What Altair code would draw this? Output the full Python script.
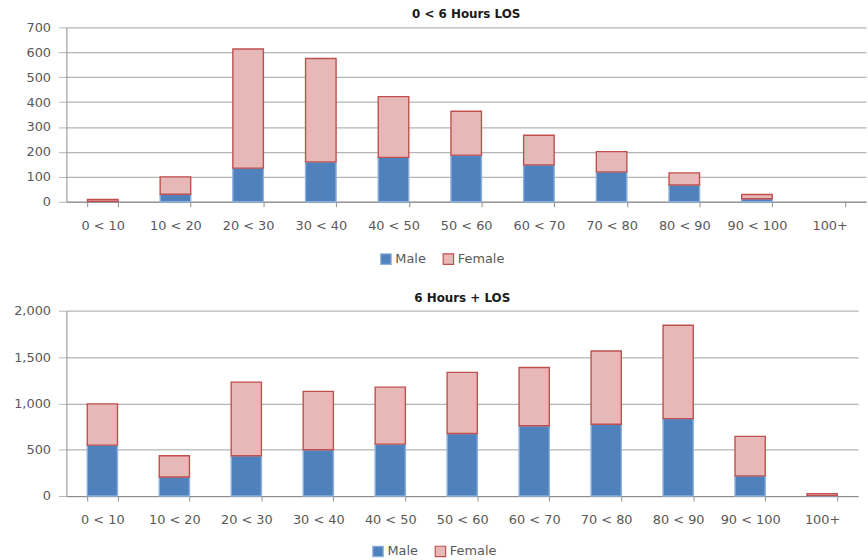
import altair as alt
import pandas as pd

cats = ["0 < 10", "10 < 20", "20 < 30", "30 < 40", "40 < 50", "50 < 60",
        "60 < 70", "70 < 80", "80 < 90", "90 < 100", "100+"]
top_male = [1, 30, 135, 160, 178, 187, 148, 120, 67, 12, 0]
top_female = [8, 70, 478, 415, 244, 176, 119, 81, 49, 17, 0]
bot_male = [550, 205, 435, 500, 560, 675, 758, 775, 835, 217, 4]
bot_female = [445, 230, 795, 630, 615, 660, 630, 790, 1008, 427, 20]
sexes = ["Male", "Female"]
top_title = "0 < 6 Hours LOS"
bot_title = "6 Hours + LOS"
top_ticks = [0, 100, 200, 300, 400, 500, 600, 700]
bot_ticks = [0, 500, 1000, 1500, 2000]

FONT = "DejaVu Sans"
TXT = "#595959"


def make_df(male, female):
    rows = []
    for c, m, f in zip(cats, male, female):
        rows.append({"cat": c, "sex": "Male", "ord": 0, "val": m})
        rows.append({"cat": c, "sex": "Female", "ord": 1, "val": f})
    return pd.DataFrame(rows)


def panel(df, title, ticks, fmt, width, height, lx, ly, yext):
    fill_scale = alt.Scale(domain=sexes, range=["#4F81BD", "#E6B9B8"])
    stroke_scale = alt.Scale(domain=sexes, range=["#8DB0DA", "#C0504D"])
    legend = alt.Legend(
        title=None, orient="none", direction="horizontal",
        legendX=lx, legendY=ly,
        symbolType="square", symbolSize=110, symbolStrokeWidth=1.2,
        labelFont=FONT, labelFontSize=13, labelColor=TXT,
        columnPadding=14, labelOffset=3,
    )
    return alt.Chart(df).transform_filter(alt.datum.val > 0).mark_bar(
        strokeWidth=1.4
    ).encode(
        x=alt.X("cat:N", sort=cats, title=None,
                scale=alt.Scale(domain=cats, paddingInner=0.58, paddingOuter=0.29),
                axis=alt.Axis(labelAngle=0, tickBand="extent", grid=False,
                              labelFont=FONT, labelFontSize=13, labelColor=TXT,
                              domainColor="#8c8c8c", tickColor="#8c8c8c",
                              tickSize=5, labelPadding=13)),
        y=alt.Y("val:Q", title=None, stack="zero",
                scale=alt.Scale(domain=[ticks[0], ticks[-1]], nice=False),
                axis=alt.Axis(values=ticks, format=fmt, grid=True,
                              gridColor="#b5b5b5", gridWidth=1.3,
                              labelFont=FONT, labelFontSize=13, labelColor=TXT,
                              domainColor="#8c8c8c", tickColor="#b5b5b5",
                              tickSize=8, labelPadding=8,
                              minExtent=yext, maxExtent=yext)),
        fill=alt.Fill("sex:N", scale=fill_scale, legend=legend),
        stroke=alt.Stroke("sex:N", scale=stroke_scale, legend=legend),
        order=alt.Order("ord:Q"),
    ).properties(
        width=width, height=height,
        title=alt.Title(title, font=FONT, fontSize=12, fontWeight="bold",
                        color="#1a1a1a", offset=0),
    )


top = panel(make_df(top_male, top_female), top_title, top_ticks, "d",
            807, 176, 316, 227, 53)
bot = panel(make_df(bot_male, bot_female), bot_title, bot_ticks, ",d",
            799, 187, 308, 236, 62)

chart = alt.vconcat(top, bot, spacing=25).resolve_scale(
    fill="independent", stroke="independent", y="independent", x="independent"
).configure(
    padding={"left": 5, "right": 2, "top": 6, "bottom": 2},
    view=alt.ViewConfig(stroke=None),
)

chart.save("out.html", embed_options={"renderer": "svg", "actions": False})
